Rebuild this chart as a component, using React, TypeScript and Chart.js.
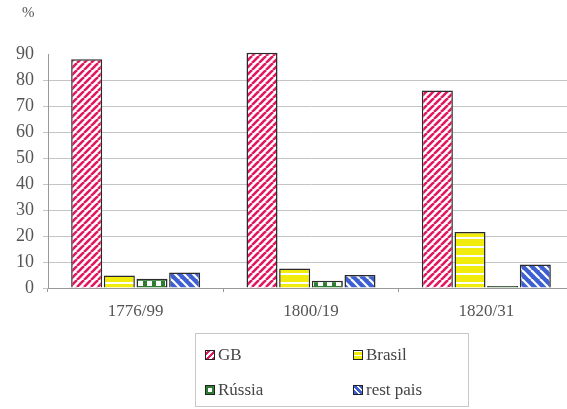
import React, { useEffect, useRef } from "react";
import { Chart, registerables } from "chart.js";

Chart.register(...registerables);

const categories = ["1776/99", "1800/19", "1820/31"];
const gbValues = [88, 90.5, 76];
const brasilValues = [4.8, 7.5, 21.5];
const russiaValues = [3.6, 2.8, 0.8];
const restValues = [6, 5, 9];
const yTicks = [0, 10, 20, 30, 40, 50, 60, 70, 80, 90];
const seriesNames = ["GB", "Brasil", "Rússia", "rest pais"];

const FONT = "'Liberation Serif', 'DejaVu Serif', serif";

function makePattern(kind: string): CanvasPattern | string {
  const c = document.createElement("canvas");
  let w = 7, h = 7;
  if (kind === "brasil") { w = 8; h = 9; }
  if (kind === "russia") { w = 9; h = 9; }
  if (kind === "rest") { w = 9; h = 9; }
  c.width = w; c.height = h;
  const ctx = c.getContext("2d")!;
  if (kind === "gb") {
    ctx.fillStyle = "#ffffff";
    ctx.fillRect(0, 0, w, h);
    ctx.strokeStyle = "#e0185f";
    ctx.lineWidth = 2.6;
    for (let k = -1; k <= 1; k++) {
      ctx.beginPath();
      ctx.moveTo(k * w, h);
      ctx.lineTo(k * w + w, 0);
      ctx.stroke();
    }
  } else if (kind === "brasil") {
    ctx.fillStyle = "#f2ec0c";
    ctx.fillRect(0, 0, w, h);
    ctx.fillStyle = "#ffffff";
    ctx.fillRect(0, 3, w, 2);
  } else if (kind === "russia") {
    ctx.fillStyle = "#2f7d32";
    ctx.fillRect(0, 0, w, h);
    ctx.fillStyle = "#ffffff";
    ctx.fillRect(3, 2, 5, 5);
  } else {
    ctx.fillStyle = "#3d5fd0";
    ctx.fillRect(0, 0, w, h);
    ctx.strokeStyle = "#ffffff";
    ctx.lineWidth = 2.2;
    for (let k = -1; k <= 1; k++) {
      ctx.beginPath();
      ctx.moveTo(k * w, 0);
      ctx.lineTo(k * w + w, h);
      ctx.stroke();
    }
  }
  return ctx.createPattern(c, "repeat") || "#888";
}

const swatchStyles: React.CSSProperties[] = [
  { background: "repeating-linear-gradient(-45deg, #e0185f 0 2px, #fff 2px 4px)" },
  { background: "repeating-linear-gradient(0deg, #f2ec0c 0 3px, #fff 3px 4px)" },
  { background: "#2f7d32", boxShadow: "inset 0 0 0 2px #2f7d32, inset 0 0 0 4px #fff" },
  { background: "repeating-linear-gradient(45deg, #3d5fd0 0 3px, #fff 3px 4.5px)" },
];

export default function App() {
  const ref = useRef<HTMLCanvasElement | null>(null);

  useEffect(() => {
    if (!ref.current) return;
    const border = "#2a2a2a";
    const common = {
      borderColor: border,
      borderWidth: 1.5,
      categoryPercentage: 0.745,
      barPercentage: 0.95,
      clip: false as any,
    };
    const chart = new Chart(ref.current, {
      type: "bar",
      data: {
        labels: categories,
        datasets: [
          { label: seriesNames[0], data: gbValues, backgroundColor: makePattern("gb") as any, ...common },
          { label: seriesNames[1], data: brasilValues, backgroundColor: makePattern("brasil") as any, ...common },
          { label: seriesNames[2], data: russiaValues, backgroundColor: makePattern("russia") as any, ...common },
          { label: seriesNames[3], data: restValues, backgroundColor: makePattern("rest") as any, ...common },
        ],
      },
      options: {
        responsive: false,
        animation: false,
        devicePixelRatio: 1,
        layout: { padding: { left: 0, right: 0, top: 54, bottom: 81 } },
        plugins: { legend: { display: false }, tooltip: { enabled: false } },
        scales: {
          x: {
            offset: true,
            grid: {
              display: true,
              drawOnChartArea: false,
              drawTicks: true,
              tickLength: 4,
              color: "#999",
              offset: true,
            },
            border: { display: true, color: "#999", width: 1 },
            ticks: {
              color: "#555",
              font: { family: FONT, size: 17 },
              padding: 9,
            },
            afterFit: (s: any) => { s.height = 40; },
          },
          y: {
            min: 0,
            max: 90,
            afterBuildTicks: (s: any) => { s.ticks = yTicks.map((v) => ({ value: v })); },
            grid: {
              color: (ctx: any) => (ctx.tick && ctx.tick.value === 90 ? "rgba(0,0,0,0)" : "#c4c4c4"),
              lineWidth: 1,
              tickLength: 5,
              drawTicks: true,
            },
            border: { display: true, color: "#999", width: 1 },
            ticks: {
              color: "#555",
              font: { family: FONT, size: 18 },
              padding: 9,
            },
            afterFit: (s: any) => { s.width = 48; },
          },
        },
      },
    });
    return () => chart.destroy();
  }, []);

  return (
    <div style={{ position: "fixed", left: 0, top: 0, width: 567, height: 409, overflow: "hidden", background: "#fff" }}>
      <canvas ref={ref} width={574} height={409} style={{ position: "absolute", left: 0, top: 0, width: 574, height: 409 }} />
      <div style={{ position: "absolute", left: 22, top: 4, fontFamily: FONT, fontSize: 15, color: "#555" }}>%</div>
      <div
        style={{
          position: "absolute",
          left: 195,
          top: 333,
          width: 272,
          height: 72,
          border: "1px solid #c8c8c8",
          fontFamily: FONT,
          fontSize: 17,
          color: "#444",
        }}
      >
        {seriesNames.map((name, i) => {
          const col = i % 2;
          const row = Math.floor(i / 2);
          return (
            <div
              key={name}
              style={{
                position: "absolute",
                left: col === 0 ? 9 : 157,
                top: row === 0 ? 11 : 46,
                display: "flex",
                alignItems: "center",
                whiteSpace: "nowrap",
              }}
            >
              <span
                style={{
                  display: "inline-block",
                  width: 8,
                  height: 8,
                  border: "1.5px solid #222",
                  marginRight: 3,
                  ...swatchStyles[i],
                }}
              />
              <span>{name}</span>
            </div>
          );
        })}
      </div>
    </div>
  );
}
